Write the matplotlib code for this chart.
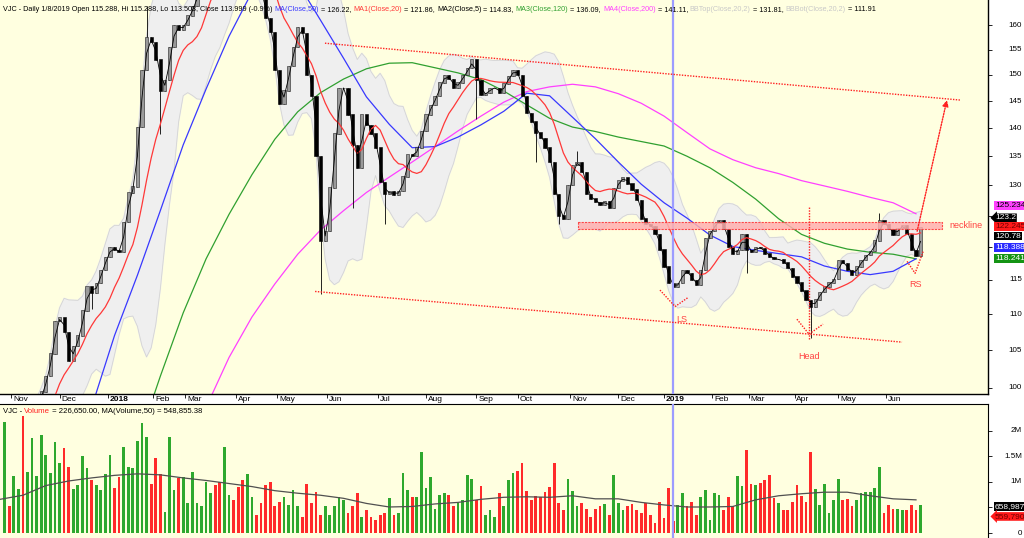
import numpy as np
import pandas as pd
import matplotlib
matplotlib.use("Agg")
import matplotlib.pyplot as plt
from matplotlib.ticker import NullLocator
from matplotlib.transforms import blended_transform_factory

plt.rcParams['font.family'] = ['Liberation Sans', 'DejaVu Sans']

# VJC closes, one value every second trading day (bar index = 2 + 2*i)
close = [93.5, 92.0, 94.0, 95.5, 94.5, 96.0, 97.0, 98.0,
         99.5, 101.5, 104.5, 109.0, 109.5, 107.5, 103.5, 105.5, 107.0, 110.5,
         114.0, 113.0, 114.5, 116.5, 118.5, 120.0, 119.5, 119.2, 124.0, 128.8,
         129.8, 140.2, 151.0, 157.5, 156.5, 153.0, 147.0, 149.0, 155.5, 160.0,
         159.0, 160.0, 162.0, 164.0, 167.0, 171.0, 175.0, 178.0, 174.0, 170.0,
         175.0, 180.0, 176.0, 172.0, 168.0, 173.0, 176.0, 170.0, 165.5, 161.5,
         158.5, 151.0, 144.5, 147.0, 151.7, 155.5, 159.6, 158.3, 150.0, 146.0,
         135.0, 121.0, 122.5, 129.6, 139.0, 147.5, 147.5, 142.5, 137.0, 133.0,
         142.5, 140.5, 139.0, 136.5, 130.6, 128.5, 129.0, 128.4, 129.0, 131.5,
         135.3, 135.0, 136.5, 139.5, 142.5, 144.3, 146.0, 148.5, 150.0, 149.2,
         147.5, 148.5, 150.0, 151.3, 153.0, 149.0, 146.2, 146.5, 147.5, 147.5,
         146.5, 148.3, 149.8, 151.0, 150.0, 146.0, 142.8, 141.2, 139.2, 138.2,
         136.5, 134.0, 128.5, 125.0, 124.5, 130.0, 133.5, 134.0, 132.3, 128.5,
         127.8, 127.2, 126.8, 127.4, 126.2, 129.5, 130.8, 131.3, 130.3, 129.3,
         127.5, 124.5, 123.6, 123.3, 122.0, 119.6, 117.0, 114.5, 114.0, 114.5,
         116.5, 116.0, 115.0, 114.2, 116.5, 121.4, 122.5, 123.8, 124.3, 122.8,
         120.0, 119.0, 119.5, 122.0, 119.5, 119.3, 120.0, 119.8, 119.0, 118.4,
         118.1, 118.1, 117.6, 116.8, 115.5, 114.6, 113.4, 112.0, 111.0, 112.1,
         113.2, 114.0, 114.6, 115.1, 118.0, 117.5, 116.5, 115.8, 117.0, 118.0,
         118.8, 119.4, 121.0, 124.2, 123.6, 122.8, 121.9, 123.0, 123.5, 122.0,
         119.5, 118.6, 123.2]

# long wicks (sample index -> price)
low_wicks = {19: 110.7, 34: 139.0, 69: 112.9, 76: 126.3, 83: 123.6, 103: 141.7,
             116: 134.0, 121: 123.6, 162: 116.0, 176: 106.7}
high_wicks = {31: 164.0, 125: 136.0, 191: 125.5}

# volume in millions, same sampling as close
volume = [2.18, 0.52, 1.12, 0.86, 2.30, 1.20, 1.86, 1.12, 1.92, 1.53,
          1.17, 1.79, 1.38, 1.66, 1.30, 0.86, 0.94, 1.50, 1.27, 1.04,
          0.94, 0.84, 1.16, 1.53, 0.88, 1.10, 1.69, 1.30, 1.27, 1.81,
          2.16, 1.88, 0.97, 1.48, 1.16, 0.42, 1.89, 0.84, 1.07, 1.09,
          0.58, 1.20, 0.58, 0.52, 1.00, 0.78, 0.94, 1.00, 1.69, 0.75,
          0.65, 0.91, 1.04, 1.16, 0.71, 0.35, 0.58, 0.94, 1.00, 0.52,
          0.61, 0.70, 0.55, 0.84, 0.52, 0.32, 0.97, 0.58, 0.81, 0.35,
          0.52, 0.35, 0.52, 0.70, 0.65, 0.39, 0.52, 0.78, 0.32, 0.45,
          0.32, 0.25, 0.35, 0.39, 0.68, 0.35, 0.39, 1.17, 0.84, 0.71,
          0.71, 1.58, 0.88, 1.10, 0.48, 0.75, 0.78, 0.75, 0.52, 0.58,
          0.65, 1.14, 1.05, 0.65, 0.92, 0.35, 0.45, 0.32, 0.79, 0.52,
          1.03, 1.18, 1.22, 1.38, 0.83, 0.65, 0.73, 0.71, 0.81, 0.90,
          1.38, 0.59, 0.45, 1.05, 0.83, 0.52, 0.58, 0.48, 0.32, 0.48,
          0.52, 0.57, 0.35, 1.14, 0.58, 0.45, 0.52, 0.57, 0.45, 0.39,
          0.58, 0.35, 0.20, 0.61, 0.29, 0.88, 0.23, 0.55, 0.79, 0.52,
          0.61, 0.35, 0.71, 0.84, 0.25, 0.78, 0.75, 0.45, 0.71, 0.52,
          1.12, 0.92, 1.63, 0.97, 0.94, 0.99, 1.04, 1.14, 0.68, 0.58,
          0.46, 0.45, 0.61, 0.94, 0.73, 0.61, 1.59, 0.86, 0.55, 0.97,
          0.39, 0.65, 1.05, 0.65, 0.66, 0.53, 0.65, 0.78, 0.81, 0.81,
          0.88, 1.29, 0.39, 0.55, 0.48, 0.48, 0.46, 0.45, 0.55, 0.45,
          0.55]

# long moving averages, every 10 bars from bar 40
ma_bars = list(range(40, 401, 10))
ma50 = [97.5, 107.0, 115.7, 125.8, 137.0, 147.3, 157.7, 167.0, 172.0, 169.0,
        161.0, 153.3, 145.8, 140.7, 136.5, 136.7, 138.4, 140.6, 143.1, 146.5,
        146.0, 142.0, 138.1, 134.0, 130.2, 127.1, 124.6, 121.9, 120.1, 119.5,
        119.0, 118.5, 117.1, 116.3, 115.8, 116.3, 118.2]
ma120 = [np.nan, np.nan, 93.0, 101.5, 110.2, 118.2, 125.2, 131.8, 138.0, 143.0,
         146.6, 149.2, 151.2, 152.3, 152.4, 151.4, 150.4, 149.1, 146.9, 144.3,
         141.8, 140.2, 139.4, 138.4, 137.6, 136.8, 135.0, 133.0, 130.5, 127.7,
         124.5, 122.0, 120.6, 119.7, 119.2, 118.9, 118.2]
ma200 = [np.nan, np.nan, np.nan, np.nan, 93.0, 97.5, 104.0, 109.6, 114.4, 118.9,
         122.7, 125.8, 128.8, 131.4, 134.0, 136.7, 139.5, 142.2, 144.8, 146.8,
         147.7, 148.2, 147.7, 146.4, 144.6, 142.2, 139.2, 136.3, 134.4, 133.0,
         132.0, 130.8, 129.9, 129.0, 128.0, 127.1, 125.3]

vol_ma_bars = list(range(0, 401, 10))
vol_ma = [0.66, 0.74, 0.93, 1.02, 1.08, 1.13, 1.16, 1.14, 1.08, 1.03,
          0.97, 0.91, 0.83, 0.78, 0.74, 0.68, 0.58, 0.51, 0.52, 0.57,
          0.60, 0.66, 0.70, 0.71, 0.70, 0.73, 0.67, 0.67, 0.60, 0.55,
          0.51, 0.51, 0.52, 0.65, 0.73, 0.77, 0.80, 0.80, 0.73, 0.67, 0.65]

month_bars = [5, 26, 47, 67, 81, 103, 121, 143, 165, 186, 208, 226, 249, 270,
              290, 311, 327, 347, 366, 387]
month_labels = ['Nov', 'Dec', '2018', 'Feb', 'Mar', 'Apr', 'May', 'Jun', 'Jul',
                'Aug', 'Sep', 'Oct', 'Nov', 'Dec', '2019', 'Feb', 'Mar', 'Apr',
                'May', 'Jun']

# hand drawn pattern (bar, price)
upper_channel = ([141.9, 419.2], [156.3, 145.2])
lower_channel = ([137.6, 393.9], [113.3, 106.1])
neck_bars = (252.4, 411.4)
neck_prices = (122.8, 124.0)
ls_v = ([288.2, 294.8, 300.4], [113.5, 111.1, 112.4])
head_v = ([348.0, 353.3, 359.4], [109.3, 107.2, 108.6])
head_line = ([353.3, 353.3], [106.5, 126.5])
rs_v = ([396.1, 399.6, 403.1], [117.8, 116.0, 119.3])
target = ((400.5, 122.5), (413.5, 145.2))

selected = 146  # 1/8/2019

bars = 2 + 2 * np.arange(len(close))
s = pd.Series(close)
c = s.values
o = s.shift(1).fillna(s.iloc[0]).values
ma20 = s.rolling(10, min_periods=3).mean()
sd = s.rolling(10, min_periods=3).std(ddof=0)
bb_top = ma20 + 2 * sd
bb_bot = ma20 - 2 * sd
ma5 = s.rolling(2, min_periods=1).mean()

W, H = 1024, 538
fig = plt.figure(figsize=(W / 100, H / 100), dpi=100, facecolor='white')
ax = fig.add_axes([0, 1 - 394 / H, 988 / W, 394 / H])
axv = fig.add_axes([0, 0, 988 / W, 134 / H])
bg = '#ffffe0'
xmax = 988 / 2.29

# ---- price panel ----
ax.set_facecolor(bg)
ax.set_yscale('log')
ax.set_ylim(99.2, 165.3)
ax.set_xlim(0, xmax)
ax.yaxis.set_minor_locator(NullLocator())

ax.fill_between(bars, bb_bot, bb_top, color='#efefef', zorder=1)
ax.plot(bars, bb_top, color='#d4d4d4', lw=0.6, zorder=1)
ax.plot(bars, bb_bot, color='#d4d4d4', lw=0.6, zorder=1)

ax.plot(ma_bars, ma200, color='#ff40ff', lw=0.9, zorder=2)
ax.plot(ma_bars, ma120, color='#30a030', lw=0.9, zorder=2)
ax.plot(ma_bars, ma50, color='#3838ff', lw=0.9, zorder=2)

body_lo = np.minimum(o, c)
body_hi = np.maximum(o, c)
lo = body_lo.copy()
hi = body_hi.copy()
for i, v in low_wicks.items():
    lo[i] = v
for i, v in high_wicks.items():
    hi[i] = v
up = c >= o
ax.vlines(bars, lo, hi, color='black', lw=0.6, zorder=3)
ax.bar(bars[up], (body_hi - body_lo)[up] + 0.05, bottom=body_lo[up], width=1.4,
       color='#9a9a9a', edgecolor='#202020', linewidth=0.4, zorder=3)
ax.bar(bars[~up], (body_hi - body_lo)[~up] + 0.05, bottom=body_lo[~up], width=1.4,
       color='black', edgecolor='black', linewidth=0.4, zorder=3)

ax.plot(bars, ma20, color='#ff3838', lw=0.9, zorder=4)
ax.plot(bars, ma5, color='black', lw=0.6, zorder=5)

ax.axvline(bars[selected], color='#9c9cff', lw=1.6, zorder=6)

dot = dict(color='#ff2020', lw=1.0, ls=(0, (1, 1)), zorder=7)
ax.plot(*upper_channel, **dot)
ax.plot(*lower_channel, **dot)
ax.plot(*ls_v, **dot)
ax.plot(*head_v, **dot)
ax.plot(*head_line, **dot)
ax.plot(*rs_v, **dot)
ax.fill_between(neck_bars, neck_prices[0], neck_prices[1], facecolor='#ffb0b0',
                edgecolor='#ff3030', linestyle=(0, (2, 1)), lw=0.8, alpha=0.85, zorder=6)
ax.annotate('', xy=target[1], xytext=target[0],
            arrowprops=dict(arrowstyle='-|>', color='#ff2020', lw=1.0, ls=(0, (1, 1)),
                            mutation_scale=9, shrinkA=0, shrinkB=0), zorder=7)
ax.text(neck_bars[1] + 3, sum(neck_prices) / 2, 'neckline', color='#ff4040',
        fontsize=6.5, va='center', ha='left', zorder=7)
ax.text(ls_v[0][1] + 3, 109.3, 'LS', color='#ff4040', fontsize=6.5,
        ha='center', va='center', zorder=7)
ax.text(head_line[0][0], 104.2, 'Head', color='#ff4040', fontsize=6.5,
        ha='center', va='center', zorder=7)
ax.text(rs_v[0][1], 115.0, 'RS', color='#ff4040', fontsize=6.5,
        ha='center', va='top', zorder=7)

for sp in ['left', 'top']:
    ax.spines[sp].set_visible(False)
ax.spines['right'].set_linewidth(1.0)
ax.spines['bottom'].set_linewidth(1.0)

price_ticks = [100, 105, 110, 115, 120, 125, 130, 135, 140, 145, 150, 155, 160]
price_tick_labels = ['100', '105', '110', '115', '', '', '130', '135', '140',
                     '145', '150', '155', '160']
ax.set_yticks(price_ticks)
ax.tick_params(axis='y', which='both', left=False, right=True, labelleft=False,
               labelright=False, direction='out', length=3, width=0.6)
ytrans = blended_transform_factory(ax.transAxes, ax.transData)
for t, lab in zip(price_ticks, price_tick_labels):
    ax.text(1022 / 988, t, lab, transform=ytrans, ha='right', va='center',
            fontsize=5.8, clip_on=False)

ax.set_xticks(month_bars)
ax.tick_params(axis='x', direction='out', length=3, width=0.6, labelbottom=False)
xtrans = blended_transform_factory(ax.transData, ax.transAxes)
for b, lab in zip(month_bars, month_labels):
    ax.text(b + 0.8, -5.5 / 394, lab, transform=xtrans, ha='left', va='center',
            fontsize=6, fontweight='bold' if lab.isdigit() else 'normal', clip_on=False)

# value labels on the right (value, text, face, text colour, nudge px, box)
price_labels = [(125.234, '125.234', '#ff40ff', 'black', 9, 'square'),
                (123.2, '123.2', 'black', 'white', 9, 'larrow'),
                (122.245, '122.245', '#ff1a1a', '#700000', 6, 'square'),
                (120.78, '120.78', 'black', 'white', 6, 'square'),
                (118.388, '118.388', '#2a2aff', 'white', 10, 'square'),
                (118.241, '118.241', '#149414', 'white', 0, 'square')]
for val, txt, fc, tc, dy, bs in price_labels:
    ax.annotate(txt, xy=(1, val), xycoords=ytrans, xytext=(7, dy),
                textcoords='offset pixels', ha='left', va='center', fontsize=6,
                color=tc, annotation_clip=False,
                bbox=dict(boxstyle=bs + ',pad=0.1', fc=fc, ec='none'))

# ---- volume panel ----
axv.set_facecolor(bg)
axv.set_xlim(0, xmax)
axv.set_ylim(-0.098e6, 2.529e6)
vol = np.array(volume) * 1e6
vcol = np.where(up, '#2ea82e', '#ff2a2a')
axv.bar(bars, vol, width=1.2, color=vcol, zorder=2)
axv.plot(vol_ma_bars, np.array(vol_ma) * 1e6, color='#505050', lw=0.9, zorder=3)
axv.axvline(bars[selected], color='#9c9cff', lw=1.6, zorder=4)
for sp in ['left', 'bottom']:
    axv.spines[sp].set_visible(False)
axv.set_xticks([])
vol_ticks = [0, 0.5e6, 1e6, 1.5e6, 2e6]
vol_tick_labels = ['0', '', '1M', '1.5M', '2M']
axv.set_yticks(vol_ticks)
axv.tick_params(axis='y', left=False, right=True, labelleft=False, labelright=False,
                direction='out', length=3, width=0.6)
vtrans = blended_transform_factory(axv.transAxes, axv.transData)
for t, lab in zip(vol_ticks, vol_tick_labels):
    axv.text(1022 / 988, t, lab, transform=vtrans, ha='right', va='center',
             fontsize=5.8, clip_on=False)
vol_labels = [(658987, '658,987', 'black', 'white', -7, 'square'),
              (559790, '559,790', '#ff1a1a', '#700000', -12, 'larrow')]
for val, txt, fc, tc, dy, bs in vol_labels:
    axv.annotate(txt, xy=(1, val), xycoords=vtrans, xytext=(7, dy),
                 textcoords='offset pixels', ha='left', va='center', fontsize=6,
                 color=tc, annotation_clip=False,
                 bbox=dict(boxstyle=bs + ',pad=0.1', fc=fc, ec='none'))


def chain(target_ax, parts, x, y, size):
    # write coloured pieces one after another on a single line
    prev = target_ax.text(x, y, parts[0][0], color=parts[0][1], fontsize=size,
                          ha='left', va='bottom', transform=fig.transFigure, zorder=10)
    for txt, col in parts[1:]:
        prev = target_ax.annotate(txt, xy=(1, 0), xycoords=prev, color=col,
                                  fontsize=size, ha='left', va='bottom',
                                  annotation_clip=False, zorder=10)


header = [("VJC - Daily 1/8/2019 Open 115.288, Hi 115.288, Lo 113.503, Close 113.999 (-0.9%) ", 'black'),
          ("MA(Close,50)", '#3838ff'), (" = 126.22, ", 'black'),
          ("MA1(Close,20)", '#ff3838'), (" = 121.86, ", 'black'),
          ("MA2(Close,5)", 'black'), (" = 114.83, ", 'black'),
          ("MA3(Close,120)", '#30a030'), (" = 136.09, ", 'black'),
          ("MA4(Close,200)", '#ff40ff'), (" = 141.11, ", 'black'),
          ("BBTop(Close,20,2)", '#c8c8c8'), (" = 131.81, ", 'black'),
          ("BBBot(Close,20,2)", '#c8c8c8'), (" = 111.91", 'black')]
chain(ax, header, 3 / W, 1 - 13 / H, 5.25)

vol_header = [("VJC - ", 'black'), ("Volume", '#ff2020'),
              (" = 226,650.00, MA(Volume,50) = 548,855.38", 'black')]
chain(axv, vol_header, 3 / W, 1 - 415 / H, 5.6)

fig.savefig('out.png', dpi=100, facecolor='white')
